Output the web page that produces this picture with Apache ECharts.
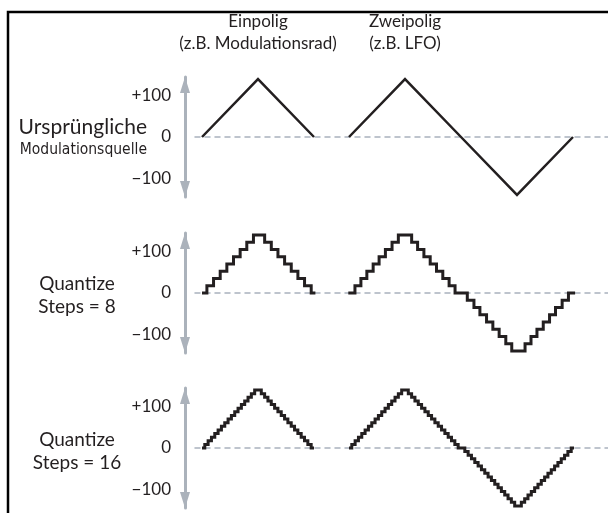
<!DOCTYPE html>
<html>
<head>
<meta charset="utf-8">
<script src="https://cdn.jsdelivr.net/npm/echarts@6/dist/echarts.min.js"></script>
<style>
  html, body { margin: 0; padding: 0; background: #fff; }
  #main { width: 608px; height: 513px; }
</style>
</head>
<body>
<div id="main"></div>
<script>
// time axis: one quarter of the modulation period = 8 units
var uniX = [0, 8, 16];
var uniY = [0, 140, 0];
var biX = [21, 29, 37, 45, 53];
var biY = [0, 140, 0, -140, 0];

// Quantize Steps = 8 (tread start positions + held level)
var q8UniX = [0, 0.7, 1.65, 2.6, 3.55, 4.5, 5.45, 6.4, 7.35,
  8.95, 9.9, 10.85, 11.8, 12.75, 13.7, 14.65, 15.6, 16.2];
var q8UniY = [0, 17.5, 35, 52.5, 70, 87.5, 105, 122.5, 140,
  122.5, 105, 87.5, 70, 52.5, 35, 17.5, 0, 0];
var q8BiX = [20.9, 21.85, 22.7, 23.55, 24.45, 25.3, 26.2, 27.15, 28.05,
  29.95, 30.8, 31.7, 32.6, 33.5, 34.4, 35.3, 36.15,
  37.9, 38.85, 39.7, 40.65, 41.55, 42.45, 43.4, 44.25,
  46.15, 47.0, 47.85, 48.75, 49.65, 50.5, 51.45, 52.35, 53.3];
var q8BiY = [0, 17.5, 35, 52.5, 70, 87.5, 105, 122.5, 140,
  122.5, 105, 87.5, 70, 52.5, 35, 17.5, 0,
  -17.5, -35, -52.5, -70, -87.5, -105, -122.5, -140,
  -122.5, -105, -87.5, -70, -52.5, -35, -17.5, 0, 0];

// Quantize Steps = 16
var q16UniX = [0, 0.4, 0.875, 1.35, 1.825, 2.3, 2.775, 3.25, 3.725, 4.2, 4.675, 5.15, 5.625, 6.1, 6.575, 7.05, 7.525,
  8.47, 8.945, 9.42, 9.895, 10.37, 10.845, 11.32, 11.795, 12.27, 12.745, 13.22, 13.695, 14.17, 14.645, 15.12, 15.595, 16.0];
var q16UniY = [0, 8.75, 17.5, 26.25, 35, 43.75, 52.5, 61.25, 70, 78.75, 87.5, 96.25, 105, 113.75, 122.5, 131.25, 140,
  131.25, 122.5, 113.75, 105, 96.25, 87.5, 78.75, 70, 61.25, 52.5, 43.75, 35, 26.25, 17.5, 8.75, 0, 0];
var q16BiX = [21.0, 21.4, 21.875, 22.35, 22.825, 23.3, 23.775, 24.25, 24.725, 25.2, 25.675, 26.15, 26.625, 27.1, 27.575, 28.05, 28.525,
  29.47, 29.945, 30.42, 30.895, 31.37, 31.845, 32.32, 32.795, 33.27, 33.745, 34.22, 34.695, 35.17, 35.645, 36.12, 36.595,
  37.545, 38.02, 38.495, 38.97, 39.445, 39.92, 40.395, 40.87, 41.345, 41.82, 42.295, 42.77, 43.245, 43.72, 44.195, 44.67,
  45.62, 46.095, 46.57, 47.045, 47.52, 47.995, 48.47, 48.945, 49.42, 49.895, 50.37, 50.845, 51.32, 51.795, 52.27, 52.745, 53.15];
var q16BiY = [0, 8.75, 17.5, 26.25, 35, 43.75, 52.5, 61.25, 70, 78.75, 87.5, 96.25, 105, 113.75, 122.5, 131.25, 140,
  131.25, 122.5, 113.75, 105, 96.25, 87.5, 78.75, 70, 61.25, 52.5, 43.75, 35, 26.25, 17.5, 8.75, 0,
  -8.75, -17.5, -26.25, -35, -43.75, -52.5, -61.25, -70, -78.75, -87.5, -96.25, -105, -113.75, -122.5, -131.25, -140,
  -131.25, -122.5, -113.75, -105, -96.25, -87.5, -78.75, -70, -61.25, -52.5, -43.75, -35, -26.25, -17.5, -8.75, 0, 0];

var tickValues = [-100, 0, 100];
var tickLabels = ['\u2212100', '0', '+100'];

var ink = '#231f20';
var axisGrey = '#abb2bb';
var font = 'Lato, "Open Sans", sans-serif';

function zip(xs, ys) {
  return xs.map(function (x, i) { return [x, ys[i]]; });
}

var gridTops = [77, 233, 388];

var grids = [], xAxes = [], yAxes = [];
gridTops.forEach(function (top, i) {
  grids.push({ left: 195, right: 0, top: top, height: 120, containLabel: false, outerBoundsMode: 'none' });
  xAxes.push({
    type: 'value', gridIndex: i, min: -1, max: 58,
    axisLine: { show: true, onZero: true, lineStyle: { color: '#a9b1bd', width: 1.5, type: [5, 5] } },
    axisTick: { show: false }, axisLabel: { show: false }, splitLine: { show: false }
  });
  yAxes.push({
    type: 'value', gridIndex: i, min: -145, max: 145, offset: 10,
    axisLine: {
      show: true, onZero: false, symbol: ['triangle', 'triangle'], symbolSize: [10, 16], symbolOffset: [8, -8],
      lineStyle: { color: axisGrey, width: 3 }
    },
    axisTick: { show: false }, splitLine: { show: false },
    axisLabel: {
      customValues: tickValues, margin: 14, color: ink, fontSize: 17, fontFamily: font,
      formatter: function (v) { return tickLabels[tickValues.indexOf(v)]; }
    }
  });
});

function lineSeries(idx, xs, ys, step, width) {
  return {
    type: 'line', xAxisIndex: idx, yAxisIndex: idx, data: zip(xs, ys),
    step: step, showSymbol: false, symbol: 'none', silent: true,
    lineStyle: { color: ink, width: width, join: 'miter' }, animation: false
  };
}

var textStyle = function (txt, x, y, size, align, family) {
  return {
    type: 'text', x: x, y: y,
    style: { text: txt, fill: ink, font: size + 'px ' + (family || font), textAlign: align, textVerticalAlign: 'middle' }
  };
};

var chart = echarts.init(document.getElementById('main'));
chart.setOption({
  animation: false,
  grid: grids,
  xAxis: xAxes,
  yAxis: yAxes,
  series: [
    lineSeries(0, uniX, uniY, false, 2.5),
    lineSeries(0, biX, biY, false, 2.5),
    lineSeries(1, q8UniX, q8UniY, 'end', 3),
    lineSeries(1, q8BiX, q8BiY, 'end', 3),
    lineSeries(2, q16UniX, q16UniY, 'end', 3),
    lineSeries(2, q16BiX, q16BiY, 'end', 3)
  ],
  graphic: [
    { type: 'polyline', shape: { points: [[8, 513], [8, 12], [608, 12]] }, style: { stroke: '#000', lineWidth: 2.5, fill: null } },
    textStyle('Einpolig', 258, 22, 17, 'center'),
    textStyle('(z.B. Modulationsrad)', 258, 44, 17, 'center'),
    textStyle('Zweipolig', 405, 22, 17, 'center'),
    textStyle('(z.B. LFO)', 405, 44, 17, 'center'),
    textStyle('Ursprüngliche', 147, 127, 21, 'right'),
    textStyle('Modulationsquelle', 147, 150, 15.5, 'right', '"Liberation Sans Narrow", "DejaVu Sans Condensed", sans-serif'),
    textStyle('Quantize', 77, 284, 19, 'center'),
    textStyle('Steps = 8', 77, 307, 19, 'center'),
    textStyle('Quantize', 77, 440, 19, 'center'),
    textStyle('Steps = 16', 77, 463, 19, 'center')
  ]
});
</script>
</body>
</html>
